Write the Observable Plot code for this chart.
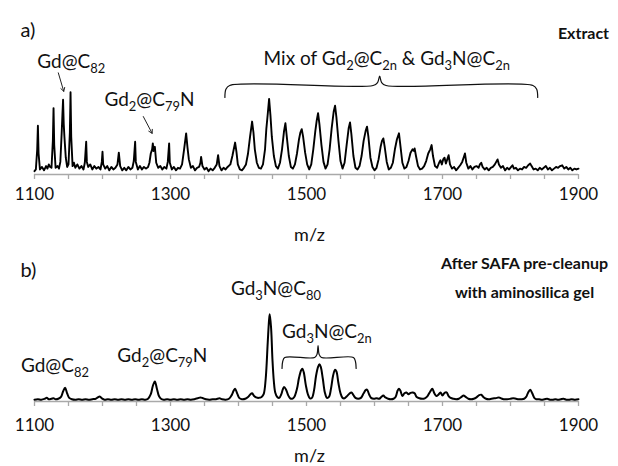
<!DOCTYPE html>
<html>
<head>
<meta charset="utf-8">
<script src="https://cdn.jsdelivr.net/npm/d3@7"></script>
<script src="https://cdn.jsdelivr.net/npm/@observablehq/plot@0.6"></script>
<style>
  html, body { margin: 0; padding: 0; background: white; }
  #chart { position: relative; width: 618px; height: 466px; background: white; overflow: hidden; }
  #chart svg { display: block; }
</style>
</head>
<body>
<div id="chart"></div>
<script>
// ---------- Data: panel a (crude extract) ----------
const mzA = [1100,1102,1104,1105,1106,1108,1111,1114,1117,1119,1121,1123,1125,1127,1128,1129,1131,1134,1136,1138,1140,1141,1142,1143,1144,1146,1148,1150,1152,1153,1154,1156,1158,1160,1163,1166,1169,1172,1174,1176,1177,1179,1182,1185,1188,1191,1194,1197,1199,1200,1201,1204,1207,1210,1213,1216,1219,1222,1224,1226,1229,1232,1235,1238,1241,1244,1246,1248,1249,1252,1255,1258,1261,1264,1267,1269,1271,1273,1274,1275,1277,1279,1282,1285,1288,1291,1294,1296,1298,1299,1302,1305,1308,1311,1314,1317,1320,1323,1325,1327,1330,1333,1336,1339,1342,1344,1345,1347,1350,1353,1356,1359,1362,1365,1368,1370,1372,1375,1378,1381,1384,1388,1391,1393,1395,1397,1399,1402,1405,1408,1411,1414,1417,1420,1422,1424,1427,1430,1433,1436,1439,1441,1443,1445,1447,1449,1452,1455,1458,1461,1464,1467,1469,1471,1474,1477,1480,1483,1486,1489,1491,1493,1495,1498,1501,1504,1507,1510,1513,1515,1517,1519,1522,1525,1528,1531,1534,1537,1540,1542,1544,1547,1550,1553,1556,1559,1562,1564,1566,1569,1572,1575,1578,1581,1584,1587,1589,1591,1594,1597,1600,1603,1606,1609,1611,1613,1615,1618,1621,1624,1627,1630,1633,1636,1638,1641,1644,1647,1650,1653,1656,1658,1659,1661,1664,1667,1670,1673,1676,1679,1682,1684,1686,1689,1692,1695,1697,1699,1701,1703,1705,1707,1709,1711,1714,1717,1720,1723,1726,1729,1731,1733,1735,1738,1741,1744,1747,1750,1753,1755,1757,1759,1762,1765,1768,1771,1774,1777,1779,1781,1783,1786,1789,1792,1795,1798,1801,1803,1805,1808,1811,1814,1817,1820,1823,1826,1829,1831,1834,1837,1840,1843,1846,1849,1852,1855,1858,1861,1864,1867,1870,1873,1876,1879,1882,1885,1888,1891,1894,1897,1900];
const intA = [4,6,30,58,25,6,9,5,10,7,12,9,8,40,79,35,8,10,7,15,50,70,89,60,45,20,9,12,50,98,45,10,14,8,12,7,10,6,14,39,15,9,12,6,10,7,9,6,15,27,12,7,10,5,9,6,8,12,26,10,5,8,5,9,6,8,16,39,15,6,10,6,9,7,9,14,25,30,37,28,33,14,8,10,6,9,7,15,37,14,6,9,5,8,7,12,30,49,32,18,8,10,5,8,9,14,21,10,6,8,4,7,5,8,12,23,10,5,8,6,9,12,22,30,38,27,12,6,5,8,12,25,45,63,50,30,14,8,7,12,30,55,72,90,70,45,22,10,7,14,30,52,61,45,22,9,7,12,25,42,50,54,45,26,12,6,12,30,52,64,73,60,35,15,7,12,30,55,75,82,68,40,16,7,14,35,55,62,48,22,8,6,10,22,40,52,57,45,20,9,5,8,18,33,40,43,33,15,6,8,14,30,42,49,35,14,7,9,16,26,30,28,31,22,10,6,7,10,16,25,30,35,22,10,8,14,17,12,18,20,13,18,23,12,7,9,5,8,11,15,20,25,14,7,10,6,9,10,8,12,14,9,6,8,5,8,9,12,15,18,12,8,10,5,8,6,9,11,7,8,5,7,6,9,8,11,13,10,6,7,5,8,6,8,10,6,8,5,7,9,8,10,11,7,9,6,8,5,7,6,7];

// ---------- Data: panel b (after SAFA pre-cleanup) ----------
const mzB = [1100,1105,1110,1115,1118,1121,1125,1128,1131,1135,1139,1142,1145,1148,1151,1155,1160,1165,1170,1175,1180,1185,1190,1193,1196,1199,1203,1208,1213,1218,1223,1228,1233,1238,1243,1248,1253,1258,1263,1267,1271,1274,1277,1280,1283,1286,1290,1295,1300,1305,1310,1315,1320,1325,1330,1335,1340,1344,1348,1352,1357,1362,1367,1372,1376,1381,1386,1390,1393,1395,1398,1401,1405,1410,1414,1417,1420,1423,1426,1430,1434,1437,1440,1443,1445,1446,1448,1450,1452,1454,1457,1460,1463,1465,1467,1470,1473,1476,1479,1482,1486,1489,1492,1494,1496,1499,1502,1505,1508,1511,1514,1517,1519,1521,1524,1527,1530,1533,1536,1539,1542,1544,1547,1550,1553,1556,1559,1563,1566,1569,1572,1576,1580,1584,1587,1589,1592,1595,1599,1603,1607,1610,1613,1616,1620,1624,1628,1631,1634,1636,1638,1641,1644,1647,1650,1653,1656,1659,1662,1666,1670,1674,1678,1682,1685,1688,1691,1694,1697,1700,1703,1706,1709,1712,1716,1720,1724,1728,1731,1734,1738,1742,1746,1750,1754,1757,1760,1764,1768,1772,1776,1780,1783,1786,1790,1795,1800,1804,1808,1812,1816,1820,1823,1826,1829,1832,1835,1838,1842,1846,1850,1854,1858,1862,1866,1870,1874,1878,1882,1886,1890,1895,1900];
const intB = [2,2.5,2,3,4,2.5,3,3.5,2.5,3,5,11,15,9,4,2.5,2,2.5,2,2.5,2,2.5,3,4.5,5.5,3.5,2,2.5,2,2.5,2,2.5,2,2.5,2,2.5,2,2.5,2,3,8,17,22,14,6,3,2,2.5,2,2.5,2,2.5,2,2.5,2,2.5,3.5,4.5,3.5,2.5,2,2.5,2.5,3.5,2.5,2,3,7,12,14,9,4,2.5,3,5,7.5,9,6,4.5,4,5,8,25,65,90,96,80,45,22,10,5,4,8,13,16,13,7,3.5,3,5,14,26,34,36,32,18,8,3.5,4,12,28,38,41,38,25,10,4,5,14,28,35,33,20,9,4,3.5,5.5,8.5,10,7,4,3,4,9,12.5,13,8,4,3,3.5,3,5,6.5,4.5,3,2.5,3,5,12,14,12,6,9,10,8,9.5,10,9,5,3.5,3,3.5,6,11,14,9,6,7.5,10,6.5,9.5,10,6,4,3,2.5,3,5,6.5,5,3,2.5,3,4.5,7,7.5,5,3,2.5,3,3.5,4,4.5,3.5,2.5,2.5,3,3.5,3,2.5,2.5,3,5,10,13,9,4,2.5,2.5,2,2.5,3,2,2,2.5,2,2.5,3,2,2,2.5,2,2.5];

// ---------- Axis ticks ----------
const tickValues = [1100,1150,1200,1250,1300,1350,1400,1450,1500,1550,1600,1650,1700,1750,1800,1850,1900];
const tickLabels = [1100,1300,1500,1700,1900];

// ---------- Annotations ----------
const labelsA = ["Gd@C_{82}", "Gd_{2}@C_{79}N", "Mix of Gd_{2}@C_{2n} & Gd_{3}N@C_{2n}"];
const labelMzA = [1154, 1269, 1618];
const labelIntA = [134, 89, 138];
const arrowFromMzA = [1135, 1260];
const arrowFromIntA = [121, 69];
const arrowToMzA = [1143, 1273];
const arrowToIntA = [99, 49];
const braceMzA = [1380, 1381.5, 1387, 1598, 1604.5, 1607.6, 1610.5, 1617, 1833, 1838.5, 1840];
const braceIntA = [91.7, 101.5, 106, 106, 109.5, 117, 109.5, 106, 106, 101.5, 91.7];
const titlesA = ["Extract"];

const labelsB = ["Gd@C_{82}", "Gd_{2}@C_{79}N", "Gd_{3}N@C_{80}", "Gd_{3}N@C_{2n}"];
const labelMzB = [1130, 1288, 1455, 1530];
const labelIntB = [39.6, 50.5, 124, 77];
const braceMzB = [1464, 1465, 1468, 1512, 1515.5, 1517, 1518.5, 1522, 1569, 1572, 1573];
const braceIntB = [36.3, 44, 48.4, 48.4, 52, 61.5, 52, 48.4, 48.4, 44, 36.3];
const titlesB = ["After SAFA pre-cleanup", "with aminosilica gel"];

const FONT = "Lato, 'Open Sans', sans-serif";

function rows(xs, ys) { return xs.map((x, i) => ({x, y: ys[i]})); }

function panel({mz, inten, height, marginTop, marginBottom, strokeWidth, tickPadding, labels, lmz, lint, braceMz, braceInt, arrows, letter, letterDy, titles, titleDys, titleDx, mzDy, lineCurve}) {
  const spec = rows(mz, inten);
  const lab = labels.map((t, i) => ({t, x: lmz[i], y: lint[i]}));
  const marks = [
    Plot.ruleY([0], {stroke: "#a9a9a9", strokeWidth: 1.5}),
    Plot.axisX({ticks: tickValues, tickFormat: () => "", tickSize: 5, stroke: "#a9a9a9", strokeWidth: 1.3, label: null}),
    Plot.axisX({ticks: tickLabels, tickFormat: d => String(d), tickSize: 0, tickPadding, fill: "#111", fontSize: 17, label: null}),
    Plot.line(spec, {x: "x", y: "y", stroke: "#000", strokeWidth, curve: lineCurve}),
    Plot.line(rows(braceMz, braceInt), {x: "x", y: "y", stroke: "#111", strokeWidth: 1.2, curve: "catmull-rom"}),
    Plot.text(lab, {x: "x", y: "y", text: "t", fontSize: 19, fill: "#111", lineAnchor: "middle", textAnchor: "middle"}),
    Plot.text([letter], {frameAnchor: "top-left", dx: -14, dy: letterDy, fontSize: 20, fill: "#111", textAnchor: "start", lineAnchor: "middle"}),
    ...titles.map((t, i) => Plot.text([t], {frameAnchor: "top-right", dx: titleDx, dy: titleDys[i], fontSize: 16, fontWeight: "bold", fill: "#111", textAnchor: "middle", lineAnchor: "middle"})),
    Plot.text(["m/z"], {frameAnchor: "bottom", dx: 3, dy: mzDy, fontSize: 18, fill: "#111", lineAnchor: "middle"})
  ];
  if (arrows) {
    const a = arrows.from.map((f, i) => ({x1: f, y1: arrows.fromI[i], x2: arrows.to[i], y2: arrows.toI[i]}));
    marks.push(Plot.arrow(a, {x1: "x1", y1: "y1", x2: "x2", y2: "y2", stroke: "#222", strokeWidth: 1, headLength: 6}));
  }
  return Plot.plot({
    width: 618, height, marginTop, marginBottom, marginLeft: 34, marginRight: 40,
    x: {domain: [1100, 1900]},
    y: {domain: [0, 100], axis: null},
    style: {fontFamily: FONT, fontSize: "17px", color: "#111", background: "white", overflow: "visible"},
    marks
  });
}

function subscripts(svg) {
  d3.select(svg).selectAll("text").each(function() {
    const t = this;
    const s = t.textContent;
    if (!s.includes("_{")) return;
    const parts = s.split(/(_\{[^}]*\})/);
    while (t.firstChild) t.removeChild(t.firstChild);
    let shifted = false;
    for (const p of parts) {
      if (!p) continue;
      const ts = document.createElementNS("http://www.w3.org/2000/svg", "tspan");
      if (p.startsWith("_{")) {
        ts.textContent = p.slice(2, -1);
        ts.setAttribute("font-size", "0.68em");
        if (!shifted) { ts.setAttribute("dy", "5"); shifted = true; }
      } else {
        ts.textContent = p;
        if (shifted) { ts.setAttribute("dy", "-5"); shifted = false; }
      }
      t.appendChild(ts);
    }
  });
}

const svgA = panel({
  mz: mzA, inten: intA, height: 245, marginTop: 90, marginBottom: 71, strokeWidth: 1.9, tickPadding: 13,
  labels: labelsA, lmz: labelMzA, lint: labelIntA, braceMz: braceMzA, braceInt: braceIntA,
  arrows: {from: arrowFromMzA, fromI: arrowFromIntA, to: arrowToMzA, toI: arrowToIntA},
  letter: "a)", letterDy: -60, titles: titlesA, titleDys: [-57], titleDx: 5, mzDy: 61, lineCurve: "linear"
});
const svgB = panel({
  mz: mzB, inten: intB, height: 221, marginTop: 65, marginBottom: 65, strokeWidth: 2, tickPadding: 17,
  labels: labelsB, lmz: labelMzB, lint: labelIntB, braceMz: braceMzB, braceInt: braceIntB,
  arrows: null,
  letter: "b)", letterDy: -40, titles: titlesB, titleDys: [-47, -18], titleDx: -54, mzDy: 55, lineCurve: "catmull-rom"
});
subscripts(svgA);
subscripts(svgB);
document.getElementById("chart").append(svgA, svgB);
</script>
</body>
</html>
